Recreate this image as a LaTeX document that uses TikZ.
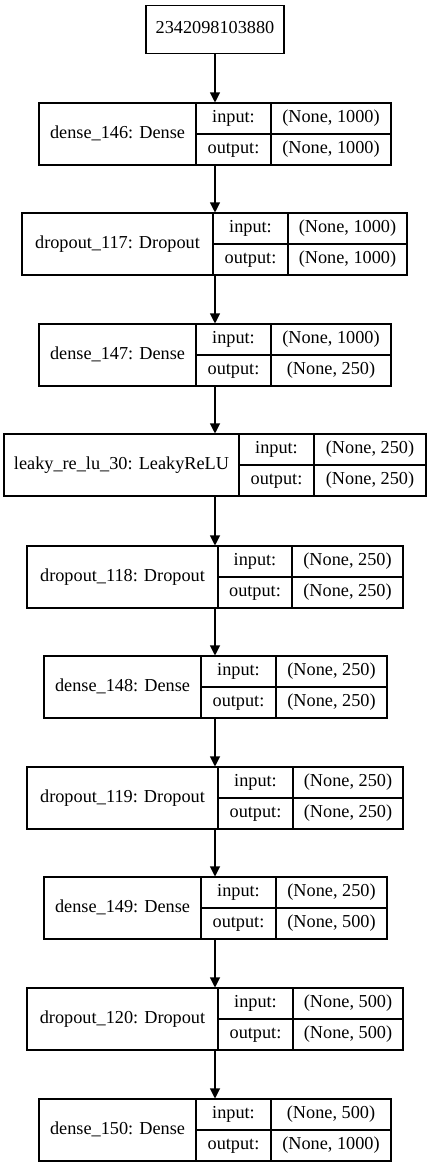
\documentclass[tikz,border=0pt]{standalone}
\usepackage{fontspec}
\setmainfont{Liberation Serif}
\usetikzlibrary{arrows.meta}
\tikzset{
  cell/.style={draw, line width=0.8pt, inner sep=0pt,
    font=\fontsize{13.7}{16}\selectfont, text height=9.5pt, text depth=3pt},
  flow/.style={-{Triangle[length=7.5pt,width=7.5pt]}, line width=0.8pt},
}
% \layer{name}{top}{x0}{x1}{x2}{x3}{label}{input shape}{output shape}
\newcommand{\layer}[9]{%
  \node[cell, minimum width={(#6-#3)*0.75pt}, minimum height={62*0.75pt}]
    (#1) at ({(#3+#6)/2},{#2+31}) {};
  \node[cell, minimum width={(#4-#3)*0.75pt}, minimum height={62*0.75pt}]
    (#1-name) at ({(#3+#4)/2},{#2+31}) {#7};
  \node[cell, minimum width={(#5-#4)*0.75pt}, minimum height={31*0.75pt}]
    (#1-il) at ({(#4+#5)/2},{#2+15.5}) {input:};
  \node[cell, minimum width={(#5-#4)*0.75pt}, minimum height={31*0.75pt}]
    (#1-ol) at ({(#4+#5)/2},{#2+46.5}) {output:};
  \node[cell, minimum width={(#6-#5)*0.75pt}, minimum height={31*0.75pt}]
    (#1-iv) at ({(#5+#6)/2},{#2+15.5}) {#8};
  \node[cell, minimum width={(#6-#5)*0.75pt}, minimum height={31*0.75pt}]
    (#1-ov) at ({(#5+#6)/2},{#2+46.5}) {#9};
}
\begin{document}
\begin{tikzpicture}[x=0.75pt, y=-0.75pt]
  \useasboundingbox (0,0) rectangle (431,1167);
  \node[cell, minimum width={138*0.75pt}, minimum height={48*0.75pt}]
    (in) at (215,29.5) {2342098103880};
  \layer{d146}{103}{39}{196}{271}{391}{dense\_146: Dense}{(None, 1000)}{(None, 1000)}
  \layer{do117}{213}{22}{213}{288}{407}{dropout\_117: Dropout}{(None, 1000)}{(None, 1000)}
  \layer{d147}{324}{39}{196}{271}{391}{dense\_147: Dense}{(None, 1000)}{(None, 250)}
  \layer{lr30}{434}{4}{239}{314}{426}{leaky\_re\_lu\_30: LeakyReLU}{(None, 250)}{(None, 250)}
  \layer{do118}{546}{27}{218}{292}{403}{dropout\_118: Dropout}{(None, 250)}{(None, 250)}
  \layer{d148}{656}{44}{201}{276}{387}{dense\_148: Dense}{(None, 250)}{(None, 250)}
  \layer{do119}{767}{27}{218}{293}{403}{dropout\_119: Dropout}{(None, 250)}{(None, 250)}
  \layer{d149}{877}{44}{201}{276}{387}{dense\_149: Dense}{(None, 250)}{(None, 500)}
  \layer{do120}{988}{27}{218}{293}{403}{dropout\_120: Dropout}{(None, 500)}{(None, 500)}
  \layer{d150}{1099}{39}{196}{271}{391}{dense\_150: Dense}{(None, 500)}{(None, 1000)}
  % every connector runs down the common centre line of the stack
  \foreach \a/\b in {in/d146, d146/do117, do117/d147, d147/lr30, lr30/do118,
                     do118/d148, d148/do119, do119/d149, d149/do120, do120/d150}
    \draw[flow] (in.center |- \a.south) -- (in.center |- \b.north);
\end{tikzpicture}
\end{document}
